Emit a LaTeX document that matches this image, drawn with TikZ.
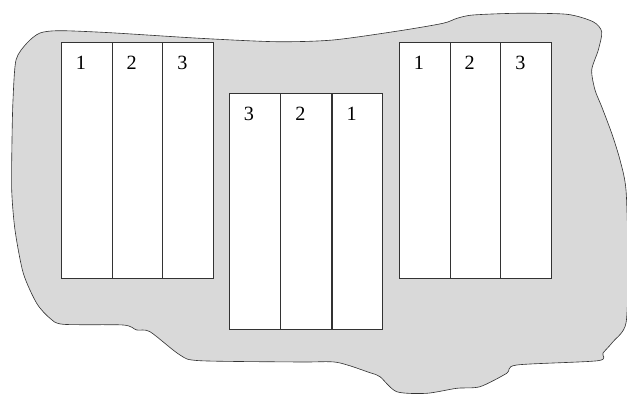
\documentclass[tikz,border=0pt]{standalone}
\usepackage{fontspec}
\setmainfont{Liberation Serif}
\usetikzlibrary{calc}

\begin{document}
\begin{tikzpicture}[
    x=0.04cm, y=-0.04cm,
    lot/.style={draw=black!80, line width=0.7pt, fill=white, minimum width=2.03cm, minimum height=9.44cm, inner sep=0pt, anchor=north west},
    num/.style={font=\fontsize{23}{27}\selectfont, inner sep=0pt}
]
  \useasboundingbox (0,0) rectangle (627,394);

  % the piece of land
  \draw[fill=black!15, draw=black!80, line width=0.7pt] plot[smooth cycle, tension=0.45] coordinates {
    (13,100) (16,60) (27,43) (40,33) (60,30.7) (110,32.7) (200,38.3) (276,41.7)
    (333,40) (400,30.7) (443,23.3) (457,18.3) (473,15) (517,13.3) (567,14.3)
    (593,21.7) (601.7,31.7) (598.3,50) (591.7,70) (595,90) (601.7,106.7)
    (611.7,133.3) (620,160) (626,190) (628,260) (626,323) (613,341.7)
    (603,353) (598,360.7) (516.7,365) (506.7,373.3) (480,386.7) (456.7,388.3)
    (426.7,393.3) (396.7,391.7) (380,376.7) (370,372.7) (336.7,362.3)
    (300,362) (200,360.7) (180,355) (150,331.7) (136.7,330) (123.3,325)
    (63.3,324.3) (50,318.3) (36.7,303.3) (23.3,273.3) (15,230) (11.7,190) (12,140)};

  % the three blocks of rows
  \foreach \n/\x/\y/\t in {a1/61/42/1, a2/111.7/42/2, a3/162.3/42/3,
                           b1/229/92.7/3, b2/280.3/92.7/2, b3/331.7/92.7/1,
                           c1/399/42/1, c2/449.7/42/2, c3/500.3/42/3}{
    \node[lot] (\n) at (\x,\y) {};
    \node[num] (\n t) at ($(\n.north west)+(20,21)$) {\t};
  }
\end{tikzpicture}
\end{document}
